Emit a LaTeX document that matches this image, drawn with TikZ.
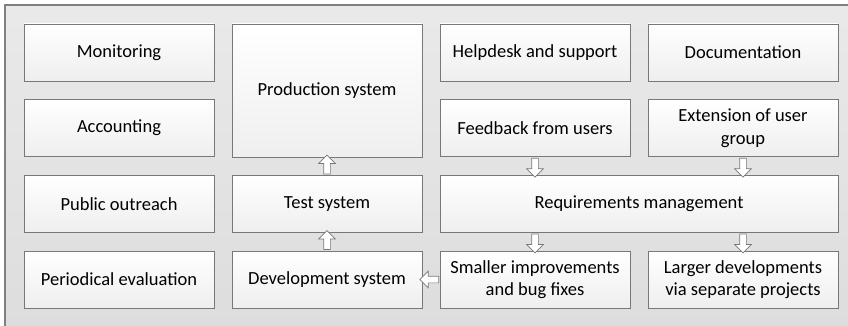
\documentclass[tikz,border=0pt]{standalone}
\usepackage{fontspec}
\setmainfont{Carlito}
\usetikzlibrary{shapes.arrows,calc}
\definecolor{framegray}{RGB}{128,128,128}
\definecolor{boxline}{RGB}{120,120,120}
\tikzset{
  task/.style={draw=boxline, line width=0.9pt, top color=white, bottom color=gray!13,
    minimum width=190pt, minimum height=57pt, inner sep=2pt, align=center,
    font=\fontsize{18.5}{22.5}\selectfont},
  blockarrow/.style={single arrow, draw=boxline, fill=white, line width=0.7pt,
    single arrow head extend=5pt, minimum height=19pt,
    inner xsep=0pt, inner ysep=3pt, outer sep=0pt}
}
\begin{document}
\begin{tikzpicture}[x=1pt, y=-1pt]
  \useasboundingbox (0,0) rectangle (848,326);
  \clip (0,0) rectangle (848,326);
  % background frame
  \draw[framegray, line width=1.5pt, top color=gray!17, bottom color=gray!27]
    (5,5) rectangle (860,340);
  % left column
  \node[task] (monitor) at (119,52.5) {Monitoring};
  \node[task] (account) at (119,128) {Accounting};
  \node[task] (outreach) at (119,204) {Public outreach};
  \node[task] (evaluation) at (119,279.5) {Periodical evaluation};
  % system chain
  \node[task, minimum height=133pt] (prod) at (327,90.5) {Production system};
  \node[task] (test) at (327,204) {Test system};
  \node[task] (devel) at (327,279.5) {Development system};
  % users and requirements
  \node[task] (helpdesk) at (535,52.5) {Helpdesk and support};
  \node[task] (docu) at (743,52.5) {Documentation};
  \node[task] (feedback) at (535,128) {Feedback from users};
  \node[task] (extension) at (743,128) {Extension of user\\group};
  \node[task, minimum width=398pt] (reqs) at (639,204) {Requirements management};
  \node[task] (smaller) at (535,279.5) {Smaller improvements\\and bug fixes};
  \node[task] (larger) at (743,279.5) {Larger developments\\via separate projects};
  % block arrows
  \node[blockarrow, rotate=90] at ($(test.north)!0.5!(prod.south)$) {};
  \node[blockarrow, rotate=90] at ($(devel.north)!0.5!(test.south)$) {};
  \node[blockarrow, rotate=-90] at ($(feedback.south)!0.5!(feedback.south |- reqs.north)$) {};
  \node[blockarrow, rotate=-90] at ($(extension.south)!0.5!(extension.south |- reqs.north)$) {};
  \node[blockarrow, rotate=-90] at ($(smaller.north |- reqs.south)!0.5!(smaller.north)$) {};
  \node[blockarrow, rotate=-90] at ($(larger.north |- reqs.south)!0.5!(larger.north)$) {};
  \node[blockarrow, rotate=180] at ($(smaller.west)!0.5!(devel.east)$) {};
\end{tikzpicture}
\end{document}
